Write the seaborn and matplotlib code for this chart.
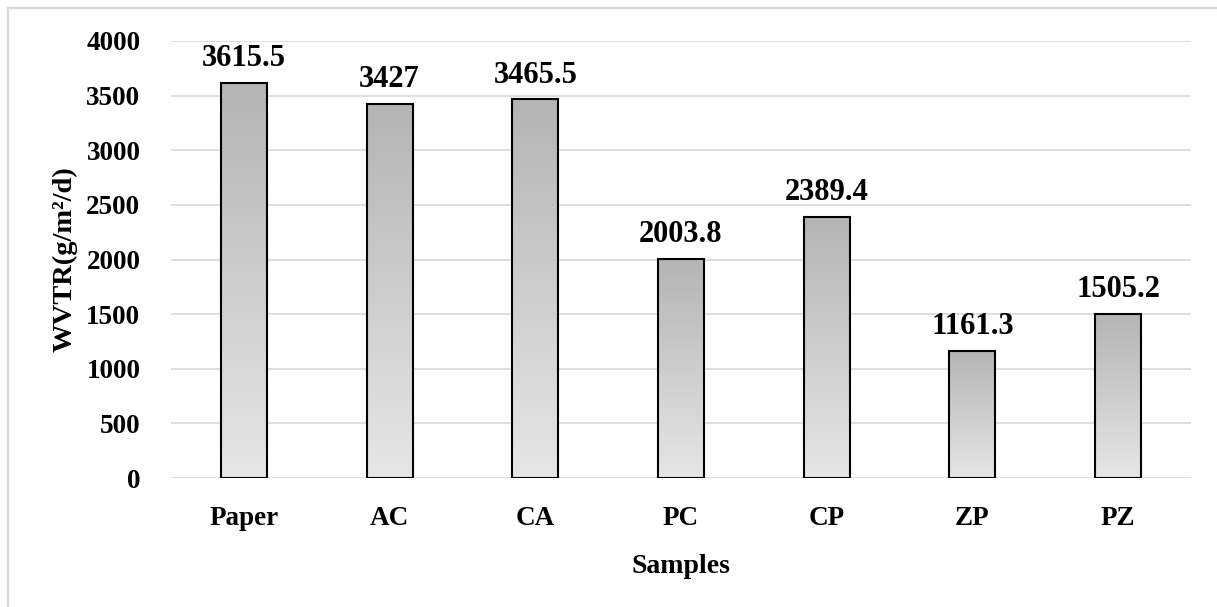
import numpy as np
import pandas as pd
import matplotlib
matplotlib.use("Agg")
import matplotlib.pyplot as plt
from matplotlib.colors import LinearSegmentedColormap
import seaborn as sns

samples = ["Paper", "AC", "CA", "PC", "CP", "ZP", "PZ"]
wvtr = [3615.5, 3427, 3465.5, 2003.8, 2389.4, 1161.3, 1505.2]
value_labels = ["3615.5", "3427", "3465.5", "2003.8", "2389.4", "1161.3", "1505.2"]
y_ticks = [0, 500, 1000, 1500, 2000, 2500, 3000, 3500, 4000]

df = pd.DataFrame({"Samples": samples, "WVTR": wvtr})

sns.set_theme(style="white")
plt.rcParams["font.family"] = ["Liberation Serif", "DejaVu Serif"]
plt.rcParams["font.weight"] = "bold"
plt.rcParams["text.color"] = "black"
plt.rcParams["axes.labelcolor"] = "black"
plt.rcParams["xtick.color"] = "black"
plt.rcParams["ytick.color"] = "black"

W, H = 1217, 607
fig = plt.figure(figsize=(W / 100, H / 100), dpi=100)
ax = fig.add_axes([171 / W, 1 - 478 / H, (1191 - 171) / W, (478 - 41) / H])

sns.barplot(data=df, x="Samples", y="WVTR", ax=ax, color="#c8c8c8",
            width=0.316, edgecolor="black", linewidth=1.5, zorder=3)

# vertical grey gradient inside each bar
cmap = LinearSegmentedColormap.from_list("bargrad", ["#e6e6e6", "#b4b4b4"])
grad = np.linspace(0, 1, 256).reshape(-1, 1)
for patch in ax.patches:
    x0, y0 = patch.get_x(), patch.get_y()
    w, h = patch.get_width(), patch.get_height()
    im = ax.imshow(grad, cmap=cmap, origin="lower", aspect="auto",
                   extent=[x0, x0 + w, y0, y0 + h], zorder=2.5)
    im.set_clip_path(patch)
    patch.set_facecolor("none")
ax.set_xlim(-0.5, len(samples) - 0.5)
ax.set_ylim(0, 4000)

ax.set_yticks(y_ticks)
ax.set_yticklabels([str(t) for t in y_ticks])
ax.yaxis.grid(True, color="#d9d9d9", linewidth=1.2, zorder=0)
ax.set_axisbelow(True)
for s in ax.spines.values():
    s.set_visible(False)
ax.tick_params(axis="y", length=0, pad=22, labelsize=19.5)
ax.tick_params(axis="x", length=0, pad=20, labelsize=19.5)
for lab in ax.get_xticklabels() + ax.get_yticklabels():
    lab.set_fontweight("bold")

for i, (v, txt) in enumerate(zip(wvtr, value_labels)):
    ax.annotate(txt, (i, v), xytext=(0, 7), textcoords="offset points",
                ha="center", va="bottom", fontsize=22, fontweight="bold")

ax.set_xlabel("Samples", fontsize=20, fontweight="bold", labelpad=17)
ax.set_ylabel("WVTR(g/m²/d)", fontsize=20.5, fontweight="bold", labelpad=6)

# chart-area frame (left and top edges)
fig.add_artist(plt.Line2D([7.5 / W, 7.5 / W], [0, 1 - 8 / H], color="#d9d9d9", lw=1.5))
fig.add_artist(plt.Line2D([7.5 / W, 1], [1 - 8 / H, 1 - 8 / H], color="#d9d9d9", lw=1.5))

fig.savefig("out.png", dpi=100)
